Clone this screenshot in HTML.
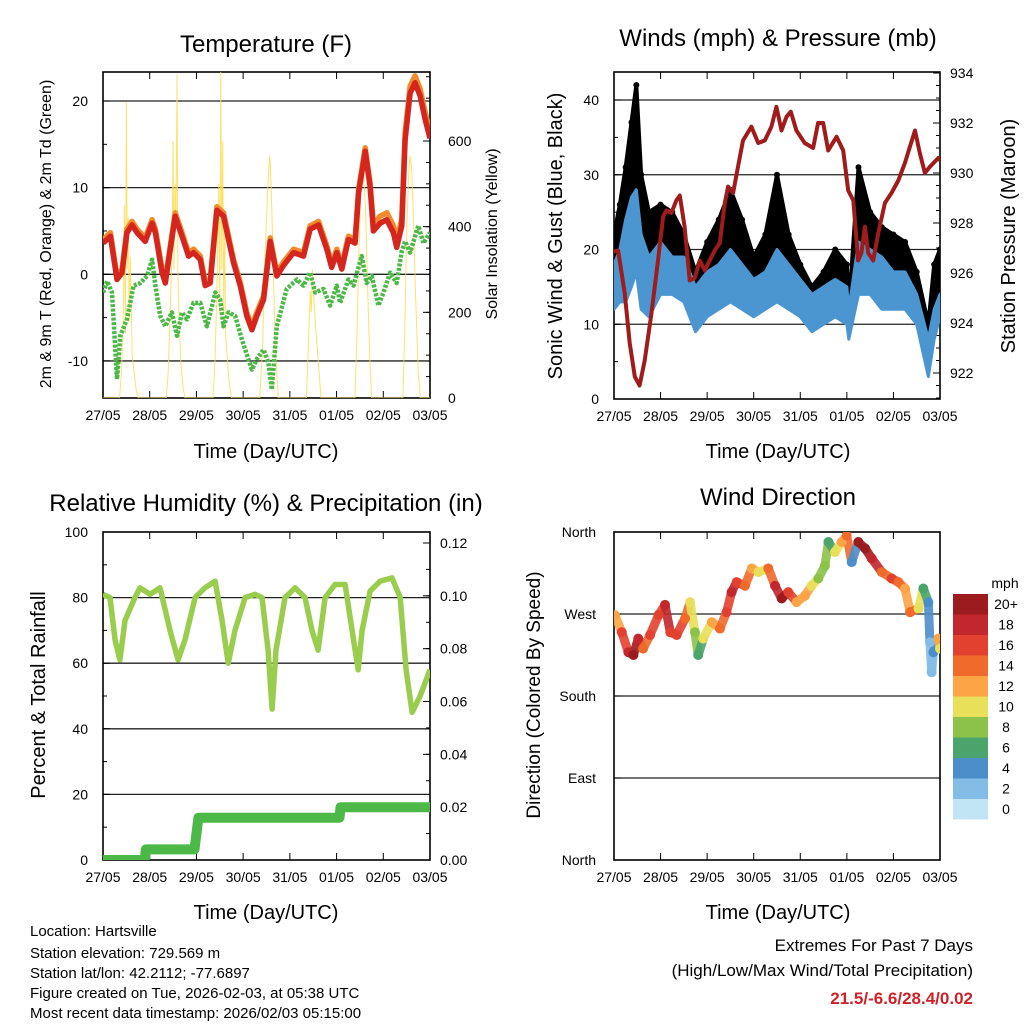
<!DOCTYPE html>
<html><head><meta charset="utf-8"><style>
html,body{margin:0;padding:0;background:#fff}
svg{display:block;font-family:"Liberation Sans",Arial,sans-serif}
</style></head><body>
<svg id="chart" xmlns="http://www.w3.org/2000/svg" width="1024" height="1024" viewBox="0 0 1024 1024">
<defs>
<clipPath id="c1"><rect x="103" y="72" width="327" height="326"/></clipPath>
<clipPath id="c2"><rect x="614" y="72" width="326" height="327"/></clipPath>
<clipPath id="c3"><rect x="103" y="532" width="327" height="328"/></clipPath>
<clipPath id="c4"><rect x="614" y="532" width="326" height="328"/></clipPath>
</defs>
<g font-size="24" text-anchor="middle" fill="#000">
<text x="266" y="52">Temperature (F)</text>
<text x="778" y="46">Winds (mph) &amp; Pressure (mb)</text>
<text x="266" y="511">Relative Humidity (%) &amp; Precipitation (in)</text>
<text x="778" y="505">Wind Direction</text>
</g>
<g font-size="20" text-anchor="middle">
<text x="266" y="458">Time (Day/UTC)</text>
<text x="778" y="458">Time (Day/UTC)</text>
<text x="266" y="919">Time (Day/UTC)</text>
<text x="778" y="919">Time (Day/UTC)</text>
<text font-size="16" transform="translate(51,234) rotate(-90)">2m &amp; 9m T (Red, Orange) &amp; 2m Td (Green)</text>
<text font-size="16" transform="translate(497,234) rotate(-90)">Solar Insolation (Yellow)</text>
<text transform="translate(562,236) rotate(-90)">Sonic Wind &amp; Gust (Blue, Black)</text>
<text transform="translate(1015,236) rotate(-90)">Station Pressure (Maroon)</text>
<text transform="translate(45,695) rotate(-90)">Percent &amp; Total Rainfall</text>
<text font-size="19" transform="translate(540,695) rotate(-90)">Direction (Colored By Speed)</text>
</g>
<g id="plots"></g>
<g id="cbar"><text x="1005" y="588" font-size="14" text-anchor="middle">mph</text></g>
<g font-size="15">
<text x="30" y="936">Location: Hartsville</text>
<text x="30" y="958">Station elevation: 729.569 m</text>
<text x="30" y="978">Station lat/lon: 42.2112; -77.6897</text>
<text x="30" y="998">Figure created on Tue, 2026-02-03, at 05:38 UTC</text>
<text x="30" y="1018">Most recent data timestamp: 2026/02/03 05:15:00</text>
</g>
<g font-size="17" text-anchor="end">
<text x="973" y="951">Extremes For Past 7 Days</text>
<text x="973" y="976">(High/Low/Max Wind/Total Precipitation)</text>
<text x="973" y="1004" fill="#cc2229" font-weight="bold">21.5/-6.6/28.4/0.02</text>
</g>
</svg>
<script>
const dayLabels=["27/05","28/05","29/05","30/05","31/05","01/05","02/05","03/05"];
const tHours=[0,3.8,7.2,9.8,12.3,14.9,17.5,20,21.7,25.2,26.9,30.3,32,34.6,37.1,40.6,44,46.5,50,52.5,55.1,58.5,61.9,67.1,70.5,73.9,76.5,79,82.5,85.9,89.3,92.7,97.9,103,106.4,110.7,115,117.5,120.1,122.7,126.1,129.5,131.3,134.7,137.2,138.9,142.4,145.8,149.2,150.9,153.5,155.2,157.8,160.3,162.9,165.5,168];
const t2Vals=[3.6,4.4,-0.6,0.2,4.8,5.7,4.8,4.2,3.8,5.9,4.8,0.2,-1,2.9,6.7,4.4,2.1,2.5,1.7,-1.3,-1,7.4,6.7,1.3,-1.3,-4.8,-6.4,-4.8,-2.9,3.8,-0.2,1.0,2.5,2.1,5.2,5.7,2.9,0.8,2.5,0.6,4.0,3.6,9.4,14.2,10.1,5.0,5.9,6.3,4.8,3.1,5.6,15.5,20.9,22.1,20.6,17.9,15.7];
const t9Vals=[4.0,4.8,-0.2,0.6,5.2,6.1,5.2,4.6,4.2,6.3,5.2,0.6,-0.6,3.3,7.1,4.8,2.5,2.9,2.1,-0.9,-0.6,7.8,7.1,1.7,-0.9,-4.4,-6.0,-4.4,-2.5,4.2,0.2,1.4,2.9,2.5,5.6,6.1,3.3,1.2,2.9,1.0,4.4,4.0,9.8,14.6,10.5,5.8,6.7,7.1,5.6,3.9,6.4,16.3,21.7,22.9,21.4,18.7,16.5];
const tdHours=[0,2.1,4.6,7.2,8.9,12.3,15.7,19.2,22.6,25.2,26.9,29.4,32,35.4,38,40.6,43.1,46.5,50,53.4,57.7,60.2,61.9,64.5,67.9,71.3,76.5,79,82.5,85,86.7,89.3,94.4,99.6,103,106.4,109,113.3,116.7,120.1,121.8,126.1,128.7,132.9,135.5,138.1,141.5,144.1,147.5,150.9,153.5,155.2,157.8,162,164.6,168];
const tdVals=[-2.1,-0.8,-2.1,-12.1,-7.1,-5.2,-1.3,-1,-0.2,1.7,-1.3,-4.8,-6,-4.4,-7.1,-4.4,-5.2,-3.3,-3.3,-6,-2.1,-2.9,-6,-4.4,-4.8,-7.5,-11,-9.8,-8.7,-10.2,-13.3,-6,-1.7,-0.6,-1.3,0.2,-2.1,-1.7,-3.6,-1.3,-3.3,-0.6,-1.3,2.1,-1,-0.2,-3.6,-2.1,0.2,-1,2.7,3.8,2.5,5.6,3.6,4.8];
const solarHours=[0,8.5,9.5,10.5,11,11.5,12,12.5,13,13.5,14,15,16,17,18,32.5,33.5,34.5,35.5,36,36.5,37,37.5,38,38.5,39,40,41,42,56.5,57.5,58.5,59.5,60,60.5,61,61.5,62,62.5,63,64,65,66,80.5,82,83,84,85,85.7,86.5,87.5,88.5,90,104.5,105.5,106.5,107,107.6,108.5,109.5,111,112,129.4,130.5,131.5,132.5,133,134,135,136,137,138,154,155,156,157,157.7,158.5,159.5,160.5,162,163,168];
const solarVals=[0,0,60,200,450,150,690,300,420,180,330,100,60,20,0,0,60,200,350,600,300,500,400,756,300,200,80,30,0,0,80,250,500,200,764,300,600,200,400,150,80,30,0,0,120,300,420,520,565,480,300,120,0,0,120,250,200,300,220,150,60,0,0,150,350,500,550,520,420,250,100,0,0,150,380,520,565,540,420,250,60,0,0];
const windHours=[0,3,6,9,11.5,14,18,24,30,36,42,48,54,60,66,72,78,84,90,96,102,108,114,120,121,126,132,138,144,150,156,162,165,168];
const windLo=[12,13,13,15,17,12,11,14,14,13,9,11,12,13,12,11,12,13,12,11,9,10,11,10,8,14,14,12,12,12,10,3,8,11];
const windHi=[18,20,24,27,28,22,19,21,19,19,15,17,18,20,18,16,17,20,18,16,14,15,16,15,12,21,20,19,17,17,14,8,12,14];
const gustHi=[22,26,31,37,42,30,25,26,25,22,17,21,24,28,24,19,22,30,22,18,15,17,20,18,12,31,25,23,22,21,17,10,18,20];
const presHours=[0,2.1,5.5,8.1,10.7,13.2,15.8,19.3,22.7,25.3,27,29.6,32.1,33.9,36.4,39,41.6,44.2,46.8,49.3,51.9,54.5,57.1,58.8,61.4,63.9,66.5,70.8,74.3,77.7,81.1,83.7,86.3,88.9,91.1,94,98.3,102.6,105.2,107.8,110.4,114.7,118.1,120.7,123.3,125.8,127.5,129.3,131,133.6,136.2,139.6,143,146.5,149.9,152.5,155.1,157.6,160.2,162.8,167.1,168];
const presVals=[926.85,926.9,925.2,923.2,921.85,921.5,922.5,924.4,926.5,928.25,928.5,928.4,928.9,929.1,927.85,925.7,925.8,926.5,926.1,926.5,926.9,927.2,928.8,929.45,929.2,930.25,931.3,931.85,931.2,931.3,931.85,932.65,931.7,932.25,932.45,931.7,931.2,931,932,932,930.9,931.45,930.9,929.3,928.9,926.5,926.8,927.85,926.8,926.5,927.6,928.8,929.2,929.7,930.4,931.05,931.7,930.8,930,930.25,930.6,930.5];
const rhHours=[0,3.6,6.2,8.7,11.3,16.4,19,24.2,29.3,34.4,38.6,42.1,47.3,52.4,57.6,61.2,64.3,67.8,73,78.1,81.7,84.8,86.9,88.9,93.5,98.7,103.8,107.4,110.5,114.1,119.2,124.4,129.5,131.1,133.1,137.2,142.4,148.5,152.7,155.7,158.8,162.9,168];
const rhVals=[81,80,67,61,73,80,83,81,83,70,61,67,80,83,85,73,60,70,80,81,80,64,46,64,80,83,80,70,64,80,84,84,64,58,70,82,85,86,80,58,45,50,58];
const precipHours=[0,21.5,22,47,49,121.5,122,168];
const precipVals=[0,0,0.004,0.004,0.016,0.016,0.020,0.020];
const dirHours=[0.5,4,7.4,10,12.5,15,18.6,23,26.3,29,32.3,36.6,39.2,41.7,43.4,46,50.4,54.6,58,60.6,63.2,67.5,71,74.4,79.5,83,86.4,89.8,94.1,98.4,101.8,105.3,108.7,110.5,113.9,117.3,119.9,122.5,125.9,129.4,132.8,138,143.1,146.6,150,152.6,156.9,159.4,162,162.8,163.7,164.6,167.1,168];
const dirVals=[268.6,250,228,225,243,232,247,269,280,250,247,265,283,250,225,243,261,254,272,294,305,301,320,316,320,301,287,294,283,290,301,309,323,349,338,349,356,327,349,342,331,316,309,305,298,272,276,298,283,239,206,228,243,232];
const dirSpeed=[13,16,19,20,18,14,17,17,19,16,16,14,11,8,6,10,13,15,17,19,16,14,12,10,14,18,20,16,12,13,10,8,9,7,10,12,14,5,20,20,18,15,16,15,12,14,11,7,4,3,2,4,12,10];
const speedLabels=["0","2","4","6","8","10","12","14","16","18","20+"];
const speedColors=["#c2e5f6","#83bde6","#4b8ec9","#4aa46c","#8dc24a","#e8e05a","#fca446","#f06a2c","#e3412f","#c1272d","#9b1b1e"];

const NS="http://www.w3.org/2000/svg";
const root=document.getElementById("plots");
function mk(tag,attrs,parent){const e=document.createElementNS(NS,tag);for(const k in attrs)e.setAttribute(k,attrs[k]);(parent||root).appendChild(e);return e;}
function lin(d0,d1,r0,r1){return v=>r0+(v-d0)/(d1-d0)*(r1-r0);}
function pts(hs,vs,xs,ys){return hs.map((h,i)=>xs(h).toFixed(1)+","+ys(vs[i]).toFixed(1)).join(" ");}

const P=[{x0:103,x1:430,y0:72,y1:398,c:"c1"},{x0:614,x1:940,y0:72,y1:399,c:"c2"},{x0:103,x1:430,y0:532,y1:860,c:"c3"},{x0:614,x1:940,y0:532,y1:860,c:"c4"}];
const xs=P.map(p=>lin(0,168,p.x0,p.x1));
const yT=lin(0,20,274.3,101), yS=lin(0,600,398,141);
const yW=lin(0,40,399,100), yP=lin(930,934,173,73);
const yR=lin(0,100,860,532), yPr=lin(0,0.12,860,543);
const yD=lin(0,360,860,532);

function frame(p,i,leftTicks,leftMinor,yl,leftLab,rightTicks,rightMinor,yr,rightLab,grid,rOff){
  const g=mk("g",{});
  
  
  grid.forEach(v=>{const l=mk("line",{x1:p.x0,x2:p.x1,y1:yl(v),y2:yl(v),stroke:"#222","stroke-width":1.3},g);
    
    });
  for(let d=0;d<=7;d++){const x=p.x0+d*(p.x1-p.x0)/7;
    mk("line",{x1:x,x2:x,y1:p.y1,y2:p.y1-7,stroke:"#000","stroke-width":1},g);
    mk("line",{x1:x,x2:x,y1:p.y0,y2:p.y0+7,stroke:"#000","stroke-width":1},g);
    const t=mk("text",{x:x,y:p.y1+22,"font-size":14,"text-anchor":"middle"},g);t.textContent=dayLabels[d];
    
    }
  leftMinor.forEach(v=>mk("line",{x1:p.x0,x2:p.x0+4,y1:yl(v),y2:yl(v),stroke:"#000"},g));
  leftTicks.forEach((v,k)=>{mk("line",{x1:p.x0,x2:p.x0+7,y1:yl(v),y2:yl(v),stroke:"#000"},g);
    const t=mk("text",{x:p.x0-(i===3?18:15),y:yl(v)+5,"font-size":14,"text-anchor":"end"},g);t.textContent=leftLab[k];
    
    });
  if(yr){rightMinor.forEach(v=>mk("line",{x1:p.x1,x2:p.x1-4,y1:yr(v),y2:yr(v),stroke:"#000"},g));
    rightTicks.forEach((v,k)=>{mk("line",{x1:p.x1,x2:p.x1-7,y1:yr(v),y2:yr(v),stroke:"#000"},g);
    const t=mk("text",{x:p.x1+rOff,y:yr(v)+5,"font-size":14},g);t.textContent=rightLab[k];
    
    });}
  const r=mk("rect",{x:p.x0,y:p.y0,width:p.x1-p.x0,height:p.y1-p.y0,fill:"none",stroke:"#000","stroke-width":1.6},g);
  
  
}
const rng=(a,b,s)=>{const o=[];for(let v=a;v<=b+1e-9;v+=s)o.push(+v.toFixed(3));return o;};

frame(P[0],0,[-10,0,10,20],rng(-10,20,5),yT,["-10","0","10","20"],[0,200,400,600],rng(0,750,50),yS,["0","200","400","600"],[-10,0,10,20],18);
let g=mk("g",{"clip-path":"url(#c1)"});


let e=mk("polyline",{points:pts(solarHours,solarVals,xs[0],yS),fill:"none",stroke:"#ffdc50","stroke-width":1,"stroke-opacity":0.85},g);


e=mk("polyline",{points:pts(tdHours,tdVals,xs[0],yT),fill:"none",stroke:"#4cb847","stroke-width":4.5,"stroke-dasharray":"3 1.5","stroke-linejoin":"round"},g);


e=mk("polyline",{points:pts(tHours,t9Vals,xs[0],yT),fill:"none",stroke:"#f38a2c","stroke-width":5.5,"stroke-linejoin":"round"},g);


e=mk("polyline",{points:pts(tHours,t2Vals,xs[0],yT),fill:"none",stroke:"#d4261f","stroke-width":5.5,"stroke-linejoin":"round"},g);



frame(P[1],1,[0,10,20,30,40],rng(0,40,5),yW,["0","10","20","30","40"],[922,924,926,928,930,932,934],rng(921,934,0.5),yP,["922","924","926","928","930","932","934"],[10,20,30,40],10);
g=mk("g",{"clip-path":"url(#c2)"});


const gustPts=windHours.map((h,i)=>xs[1](h)+","+yW(gustHi[i])).join(" ")+" "+windHours.slice().reverse().map((h,k)=>{const i=windHours.length-1-k;return xs[1](h)+","+yW(windLo[i]+3);}).join(" ");
e=mk("polygon",{points:gustPts,fill:"#000",stroke:"#000","stroke-width":4,"stroke-linejoin":"round"},g);


windHours.forEach((h,i)=>{const c=mk("circle",{cx:xs[1](h),cy:yW(gustHi[i]),r:3,fill:"#000"},g);
  
  });
const windPts=windHours.map((h,i)=>xs[1](h)+","+yW(windHi[i])).join(" ")+" "+windHours.slice().reverse().map((h,k)=>{const i=windHours.length-1-k;return xs[1](h)+","+yW(windLo[i]);}).join(" ");
e=mk("polygon",{points:windPts,fill:"#4b95d1",stroke:"#4b95d1","stroke-width":3,"stroke-linejoin":"round"},g);


e=mk("polyline",{points:pts(presHours,presVals,xs[1],yP),fill:"none",stroke:"#a01c1c","stroke-width":4,"stroke-linejoin":"round"},g);



frame(P[2],2,[0,20,40,60,80,100],rng(0,100,10),yR,["0","20","40","60","80","100"],[0,0.02,0.04,0.06,0.08,0.1,0.12],rng(0,0.12,0.01),yPr,["0.00","0.02","0.04","0.06","0.08","0.10","0.12"],[20,40,60,80],10);
g=mk("g",{"clip-path":"url(#c3)"});


e=mk("polyline",{points:pts(precipHours,precipVals,xs[2],yPr),fill:"none",stroke:"#4cb847","stroke-width":10,"stroke-linejoin":"round","stroke-linecap":"round"},g);


e=mk("polyline",{points:pts(rhHours,rhVals,xs[2],yR),fill:"none",stroke:"#9acd4e","stroke-width":5.5,"stroke-linejoin":"round"},g);



frame(P[3],3,[0,90,180,270,360],[],yD,["North","East","South","West","North"],[],[],null,[],[90,180,270],10);
g=mk("g",{"clip-path":"url(#c4)"});


const col=s=>speedColors[Math.min(10,Math.floor(s/2))];
for(let i=0;i<dirHours.length-1;i++){
  const l=mk("line",{x1:xs[3](dirHours[i]),y1:yD(dirVals[i]),x2:xs[3](dirHours[i+1]),y2:yD(dirVals[i+1]),stroke:col(dirSpeed[i]),"stroke-width":9,"stroke-linecap":"round","stroke-opacity":0.9},g);
  
  
}
dirHours.forEach((h,i)=>{const c=mk("circle",{cx:xs[3](h),cy:yD(dirVals[i]),r:5,fill:col(dirSpeed[i])},g);
  
  });

const cb=document.getElementById("cbar");
speedColors.forEach((c,i)=>{const y=594+(10-i)*20.5;
  const r=mk("rect",{x:953,y:y,width:35,height:20.5,fill:c},cb);
  
  
  const t=mk("text",{x:1006,y:y+15,"font-size":14,"text-anchor":"middle"},cb);t.textContent=speedLabels[i];
  
  });
</script>
</body></html>
